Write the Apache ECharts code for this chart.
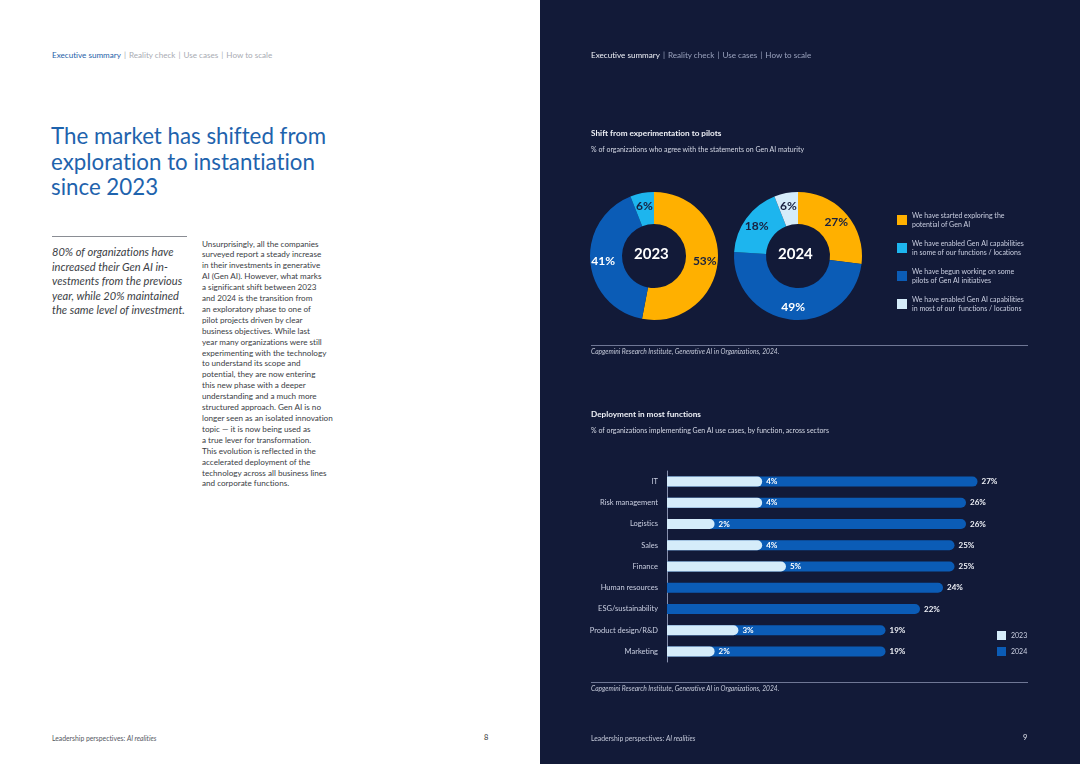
<!DOCTYPE html>
<html>
<head>
<meta charset="utf-8">
<script src="https://cdn.jsdelivr.net/npm/echarts@6/dist/echarts.min.js"></script>
<style>
  html, body { margin: 0; padding: 0; }
  body { width: 1080px; height: 764px; position: relative; overflow: hidden; font-family: Lato, "Noto Sans", sans-serif; background: #ffffff; font-variant-ligatures: none; }
  .t { position: absolute; white-space: nowrap; }
  .p { padding: 0 3px; }
  #chart { position: absolute; left: 540px; top: 0; width: 540px; height: 764px; }
  .overlay { position: absolute; left: 540px; top: 0; width: 540px; height: 764px; pointer-events: none; }
</style>
</head>
<body>
<!-- Left page -->
<div class="t" style="left:52px; top:49px; font-size:8.1px; line-height:12px; color:#a9acb3;">
  <span style="color:#1f5fa8;">Executive summary</span><span class="p">|</span>Reality check<span class="p">|</span>Use cases<span class="p">|</span>How to scale
</div>
<div class="t" style="left:51px; top:123px; font-size:22.3px; line-height:25.5px; color:#1e63ad;">
  The market has shifted from<br>exploration to instantiation<br>since 2023
</div>
<div style="position:absolute; left:52px; top:236px; width:135px; height:1px; background:#8a8d94;"></div>
<div class="t" style="left:52px; top:245px; font-size:11.1px; line-height:14.5px; color:#3b3e45; font-style:italic;">
  80% of organizations have<br>increased their Gen AI in-<br>vestments from the previous<br>year, while 20% maintained<br>the same level of investment.
</div>
<div class="t" style="left:202px; top:238.5px; font-size:8.15px; line-height:10.9px; color:#3a3d44;">
  Unsurprisingly, all the companies<br>surveyed report a steady increase<br>in their investments in generative<br>AI (Gen AI). However, what marks<br>a significant shift between 2023<br>and 2024 is the transition from<br>an exploratory phase to one of<br>pilot projects driven by clear<br>business objectives. While last<br>year many organizations were still<br>experimenting with the technology<br>to understand its scope and<br>potential, they are now entering<br>this new phase with a deeper<br>understanding and a much more<br>structured approach. Gen AI is no<br>longer seen as an isolated innovation<br>topic — it is now being used as<br>a true lever for transformation.<br>This evolution is reflected in the<br>accelerated deployment of the<br>technology across all business lines<br>and corporate functions.
</div>
<div class="t" style="left:52px; top:733px; font-size:6.8px; line-height:10px; color:#55585f;">
  Leadership perspectives: <i>AI realities</i>
</div>
<div class="t" style="left:484px; top:733px; font-size:7.5px; line-height:10px; color:#333;">8</div>

<!-- Right page -->
<div id="chart"></div>
<div class="overlay">
  <div class="t" style="left:51px; top:49px; font-size:8.1px; line-height:12px; color:#9aa2bd;">
    <span style="color:#eef0f6;">Executive summary</span><span class="p">|</span>Reality check<span class="p">|</span>Use cases<span class="p">|</span>How to scale
  </div>
  <div class="t" style="left:51px; top:127px; font-size:8.2px; line-height:12px; color:#eef0f6; font-weight:bold;">Shift from experimentation to pilots</div>
  <div class="t" style="left:51px; top:144px; font-size:7px; line-height:10px; color:#d3d7e4;">% of organizations who agree with the statements on Gen AI maturity</div>
  <div style="position:absolute; left:51px; top:345px; width:437px; height:1px; background:#6f7795;"></div>
  <div class="t" style="left:51px; top:346px; font-size:6.7px; line-height:10px; color:#c3c8d8; font-style:italic;">Capgemini Research Institute, Generative AI in Organizations, 2024.</div>

  <div class="t" style="left:51px; top:408px; font-size:8.2px; line-height:12px; color:#eef0f6; font-weight:bold;">Deployment in most functions</div>
  <div class="t" style="left:51px; top:425px; font-size:7px; line-height:10px; color:#d3d7e4;">% of organizations implementing Gen AI use cases, by function, across sectors</div>
  <div style="position:absolute; left:51px; top:682px; width:437px; height:1px; background:#6f7795;"></div>
  <div class="t" style="left:51px; top:683px; font-size:6.7px; line-height:10px; color:#c3c8d8; font-style:italic;">Capgemini Research Institute, Generative AI in Organizations, 2024.</div>

  <div class="t" style="left:51px; top:733px; font-size:6.8px; line-height:10px; color:#c3c8d8;">Leadership perspectives: <i>AI realities</i></div>
  <div class="t" style="left:483px; top:733px; font-size:7.5px; line-height:10px; color:#e2e5ee;">9</div>
</div>

<script>
// ---------- Data ----------
// Donut charts: slices in clockwise order from 12 o'clock
const maturityNames = [
  'We have started exploring the potential of Gen AI',
  'We have begun working on some pilots of Gen AI initiatives',
  'We have enabled Gen AI capabilities in some of our functions / locations',
  'We have enabled Gen AI capabilities in most of our  functions / locations'
];
const maturityLegendText = [
  'We have started exploring the\npotential of Gen AI',
  'We have begun working on some\npilots of Gen AI initiatives',
  'We have enabled Gen AI capabilities\nin some of our functions / locations',
  'We have enabled Gen AI capabilities\nin most of our  functions / locations'
];
const maturityColors = ['#ffb000', '#0b5cb6', '#1db5ee', '#d5ecfa'];
const maturityLabelColors = ['#18203f', '#ffffff', '#18203f', '#18203f'];
const legendOrder = [0, 2, 1, 3];
const maturity2023 = [53, 41, 6, null];
const maturity2024 = [27, 49, 18, 6];
const donutYears = ['2023', '2024'];

// Bar chart
const categories = ['IT', 'Risk management', 'Logistics', 'Sales', 'Finance', 'Human resources', 'ESG/sustainability', 'Product design/R&D', 'Marketing'];
const values2023 = [4, 4, 2, 4, 5, null, null, 3, 2];
const values2024 = [27, 26, 26, 25, 25, 24, 22, 19, 19];
const barYears = ['2023', '2024'];

// ---------- Chart ----------
const FONT = 'Lato, "Noto Sans", sans-serif';
const chart = echarts.init(document.getElementById('chart'), null, { renderer: 'canvas' });

function donutData(values) {
  const out = [];
  values.forEach((v, i) => {
    if (v === null) return;
    out.push({
      name: maturityNames[i],
      value: v,
      itemStyle: { color: maturityColors[i] },
      label: { color: maturityLabelColors[i] }
    });
  });
  return out;
}

const legendMap = {};
maturityNames.forEach((n, i) => { legendMap[n] = maturityLegendText[i]; });

function pieSeries(values, center, year) {
  return {
    type: 'pie',
    name: 'Maturity ' + year,
    center: center,
    radius: [32, 64],
    startAngle: 90,
    clockwise: true,
    avoidLabelOverlap: false,
    silent: true,
    label: {
      show: true,
      position: 'inside',
      formatter: '{c}%',
      fontFamily: FONT,
      fontSize: 12,
      fontWeight: 'bold'
    },
    labelLine: { show: false },
    itemStyle: { borderWidth: 0 },
    data: donutData(values)
  };
}

const option = {
  backgroundColor: '#121a38',
  animation: false,
  textStyle: { fontFamily: FONT },
  legend: [
    {
      orient: 'vertical',
      left: 357,
      top: 211,
      padding: 0,
      itemWidth: 10,
      itemHeight: 10,
      itemGap: 10,
      icon: 'rect',
      selectedMode: false,
      data: legendOrder.map(i => maturityNames[i]),
      formatter: name => legendMap[name],
      textStyle: { color: '#c9cee0', fontSize: 7, lineHeight: 9, fontFamily: FONT }
    },
    {
      orient: 'vertical',
      left: 457,
      top: 631,
      padding: 0,
      itemWidth: 9,
      itemHeight: 9,
      itemGap: 7,
      icon: 'rect',
      selectedMode: false,
      data: barYears,
      textStyle: { color: '#c9cee0', fontSize: 7, fontFamily: FONT }
    }
  ],
  graphic: [
    { type: 'text', left: 114 - 20, top: 256 - 9, style: { text: donutYears[0], width: 40, align: 'center', fill: '#ffffff', fontSize: 15, fontWeight: 'bold', fontFamily: FONT } },
    { type: 'text', left: 258 - 20, top: 256 - 9, style: { text: donutYears[1], width: 40, align: 'center', fill: '#ffffff', fontSize: 15, fontWeight: 'bold', fontFamily: FONT } }
  ],
  grid: { left: 127, top: 471, width: 345, height: 191, containLabel: false },
  xAxis: [
    { type: 'value', min: 0, max: 30, show: false, splitLine: { show: false } },
    { type: 'value', min: 0, max: 14.5, show: false, splitLine: { show: false } }
  ],
  yAxis: {
    type: 'category',
    inverse: true,
    data: categories,
    axisLine: { show: true, lineStyle: { color: '#8790ad', width: 1 } },
    axisTick: { show: false },
    axisLabel: { color: '#c9cee0', fontSize: 7.5, margin: 9, fontFamily: FONT }
  },
  series: [
    pieSeries(maturity2023, [114, 256], donutYears[0]),
    pieSeries(maturity2024, [258, 256], donutYears[1]),
    {
      type: 'bar',
      name: barYears[1],
      xAxisIndex: 0,
      data: values2024,
      barWidth: 10,
      barGap: '-100%',
      silent: true,
      itemStyle: { color: '#0b5cb6', borderRadius: [0, 5, 5, 0] },
      label: { show: true, position: 'right', distance: 4, formatter: '{c}%', color: '#eef0f6', fontSize: 8, fontWeight: 'bold', fontFamily: FONT }
    },
    {
      type: 'bar',
      name: barYears[0],
      xAxisIndex: 1,
      data: values2023.map(v => v === null ? '-' : v),
      barWidth: 10,
      barGap: '-100%',
      silent: true,
      z: 3,
      itemStyle: { color: '#d5ecfa', borderRadius: [0, 5, 5, 0] },
      label: { show: true, position: 'right', distance: 4, formatter: '{c}%', color: '#ffffff', fontSize: 8, fontWeight: 'bold', fontFamily: FONT }
    }
  ]
};
chart.setOption(option);
</script>
</body>
</html>
